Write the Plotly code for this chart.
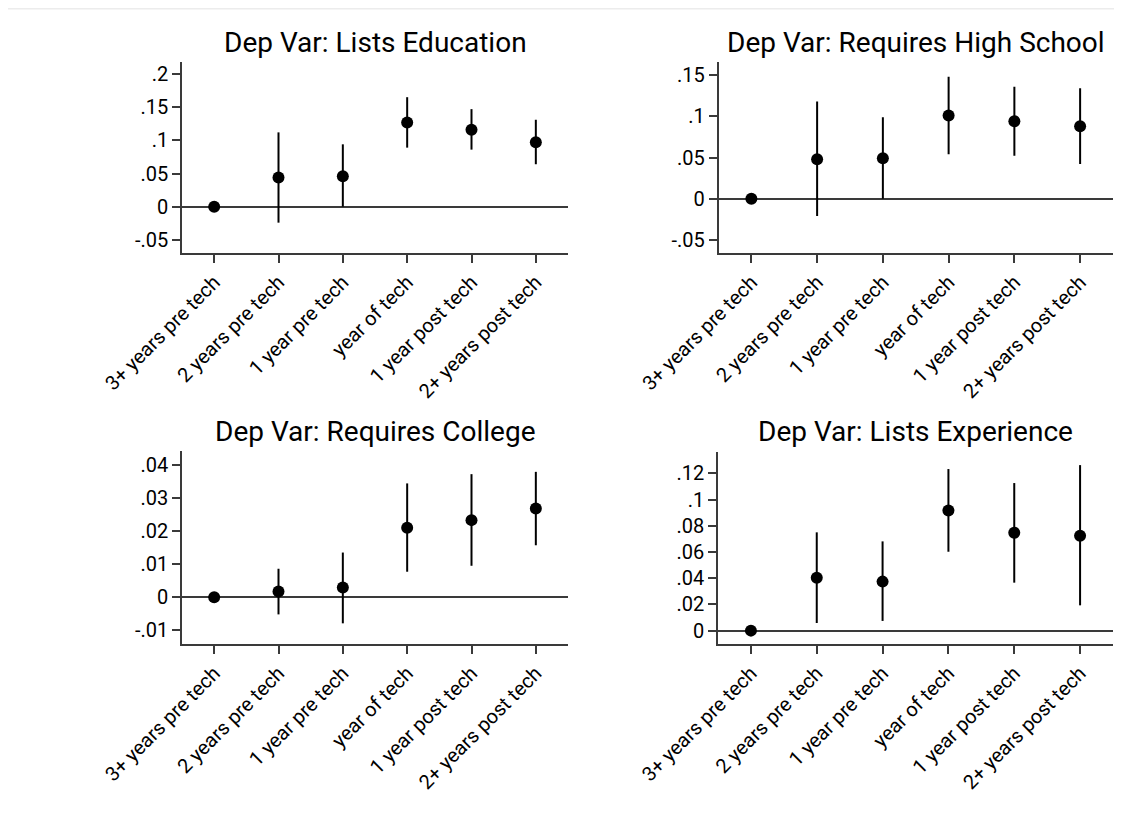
import plotly.graph_objects as go

# ---- data ----
categories = ["3+ years pre tech", "2 years pre tech", "1 year pre tech",
              "year of tech", "1 year post tech", "2+ years post tech"]

titles = ["Dep Var: Lists Education", "Dep Var: Requires High School",
          "Dep Var: Requires College", "Dep Var: Lists Experience"]

edu_coef = [0.0, 0.044, 0.046, 0.127, 0.116, 0.097]
edu_hi = [0.0, 0.112, 0.094, 0.165, 0.147, 0.131]
edu_lo = [0.0, -0.024, 0.0, 0.089, 0.086, 0.064]

hs_coef = [0.0, 0.048, 0.049, 0.101, 0.094, 0.088]
hs_hi = [0.0, 0.118, 0.099, 0.148, 0.136, 0.134]
hs_lo = [0.0, -0.021, 0.0, 0.054, 0.052, 0.042]

col_coef = [0.0, 0.0017, 0.0029, 0.021, 0.0233, 0.0268]
col_hi = [0.0, 0.0086, 0.0135, 0.0344, 0.0372, 0.0379]
col_lo = [0.0, -0.0052, -0.0079, 0.0077, 0.0095, 0.0157]

exp_coef = [0.0, 0.0404, 0.0374, 0.0917, 0.0747, 0.0724]
exp_hi = [0.0, 0.075, 0.0681, 0.1233, 0.1126, 0.1263]
exp_lo = [0.0, 0.0058, 0.0074, 0.0602, 0.0366, 0.0193]

edu_ticks = [0.2, 0.15, 0.1, 0.05, 0, -0.05]
edu_ticktext = [".2", ".15", ".1", ".05", "0", "-.05"]
hs_ticks = [0.15, 0.1, 0.05, 0, -0.05]
hs_ticktext = [".15", ".1", ".05", "0", "-.05"]
col_ticks = [0.04, 0.03, 0.02, 0.01, 0, -0.01]
col_ticktext = [".04", ".03", ".02", ".01", "0", "-.01"]
exp_ticks = [0.12, 0.1, 0.08, 0.06, 0.04, 0.02, 0]
exp_ticktext = [".12", ".1", ".08", ".06", ".04", ".02", "0"]

W, H = 1122, 818
OFF = 8  # page body margin offset

panels = [
    (edu_coef, edu_hi, edu_lo, edu_ticks, edu_ticktext, [-0.0697, 0.218]),
    (hs_coef, hs_hi, hs_lo, hs_ticks, hs_ticktext, [-0.066, 0.166]),
    (col_coef, col_hi, col_lo, col_ticks, col_ticktext, [-0.01415, 0.0442]),
    (exp_coef, exp_hi, exp_lo, exp_ticks, exp_ticktext, [-0.0102, 0.1363]),
]

# pixel boxes on screen (left, right, top, bottom)
boxes = [(182, 568, 62, 253), (718.5, 1113, 62, 253),
         (182, 568, 451, 644), (718, 1113, 452, 644)]

fig = go.Figure()
FONT = "Roboto, 'Noto Sans', sans-serif"
layout = dict(
    width=W, height=H, autosize=False,
    margin=dict(l=0, r=0, t=0, b=0, pad=0, autoexpand=False),
    paper_bgcolor="white", plot_bgcolor="white",
    showlegend=False,
    font=dict(family=FONT, color="black", size=20),
)
annotations = []
axcolor = "#3a3a3a"
TICK_SIZE = 20
TITLE_SIZE = 28

for i, (coef, hi, lo, tv, tt, yr) in enumerate(panels):
    n = i + 1
    xa = "x" if n == 1 else f"x{n}"
    ya = "y" if n == 1 else f"y{n}"
    plus = [h - c for h, c in zip(hi, coef)]
    minus = [c - l for c, l in zip(coef, lo)]
    fig.add_trace(go.Scatter(
        x=categories, y=coef, mode="markers",
        marker=dict(color="black", size=12),
        error_y=dict(type="data", symmetric=False, array=plus, arrayminus=minus,
                     color="black", thickness=2, width=0),
        xaxis=xa, yaxis=ya, cliponaxis=False,
    ))
    l, r, t, b = [v - OFF for v in boxes[i]]
    xd = [l / W, r / W]
    yd = [1 - b / H, 1 - t / H]
    layout["xaxis" if n == 1 else f"xaxis{n}"] = dict(
        domain=xd, anchor=ya, type="category", range=[-0.5, 5.5],
        automargin=False,
        showline=True, linecolor=axcolor, linewidth=1.5,
        ticks="outside", ticklen=8, tickwidth=1.5, tickcolor=axcolor,
        tickangle=-45, showgrid=False, zeroline=False,
        tickfont=dict(size=TICK_SIZE, color="black", family=FONT),
    )
    layout["yaxis" if n == 1 else f"yaxis{n}"] = dict(
        domain=yd, anchor=xa, range=yr, automargin=False,
        tickmode="array", tickvals=tv, ticktext=tt,
        showline=True, linecolor=axcolor, linewidth=1.5,
        ticks="outside", ticklen=8, tickwidth=1.5, tickcolor=axcolor,
        showgrid=False, zeroline=True, zerolinecolor=axcolor, zerolinewidth=1.5,
        tickfont=dict(size=TICK_SIZE, color="black", family=FONT),
    )
    annotations.append(dict(
        text=titles[i], xref="paper", yref="paper",
        x=(l + r) / 2 / W, y=1 - (t - 20) / H,
        xanchor="center", yanchor="middle", showarrow=False,
        font=dict(size=TITLE_SIZE, color="black", family=FONT),
    ))

layout["annotations"] = annotations
layout["shapes"] = [dict(type="line", xref="paper", yref="paper",
                         x0=0, x1=1, y0=1 - 0.75 / H, y1=1 - 0.75 / H,
                         line=dict(color="#ececec", width=1.5))]
fig.update_layout(**layout)
fig.write_html("out.html", config={"responsive": False})
